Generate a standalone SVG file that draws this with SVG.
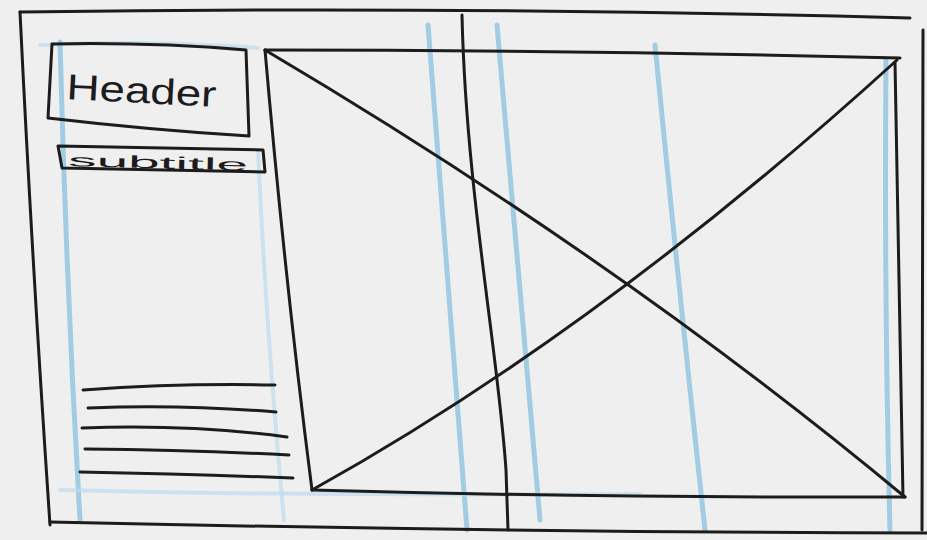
<svg xmlns="http://www.w3.org/2000/svg" width="927" height="540" viewBox="0 0 927 540">
<style>
.ink{fill:none;stroke:#1c1c1c;stroke-width:3;stroke-linecap:round;stroke-linejoin:round}
.blue{fill:none;stroke:#8ec3e0;stroke-width:5;stroke-linecap:round;opacity:0.8}
.faint{fill:none;stroke:#bcdcec;stroke-width:4;stroke-linecap:round;opacity:0.7}
.hand{font-family:"Liberation Sans","DejaVu Sans",sans-serif;fill:#1c1c1c}
</style>
<rect width="927" height="540" fill="#efefef"/>
<g id="guides">
<path class="faint" d="M40 45 Q150 40 258 48"/>
<path class="blue" d="M60 42 Q66 280 80 520"/>
<path class="faint" d="M258 150 Q266 330 284 520"/>
<path class="blue" d="M428 25 Q446 250 467 530"/>
<path class="blue" d="M497 25 Q518 270 540 520"/>
<path class="blue" d="M655 45 Q678 280 705 530"/>
<path class="blue" d="M886 60 Q884 300 890 530"/>
<path class="faint" d="M60 490 Q300 496 640 494"/>
</g>
<g id="page-frame">
<path class="ink" d="M20 12 Q460 6 910 18"/>
<path class="ink" d="M20 12 Q32 260 50 525"/>
<path class="ink" d="M50 522 Q500 532 927 533"/>
<path class="ink" d="M923 30 L922 530"/>
</g>
<g id="grid-line">
<path class="ink" d="M462 15 C466 190 498 350 506 470 L508 530"/>
</g>
<g id="header">
<path class="ink" d="M52 44 Q150 42 246 50 L249 136 Q150 130 48 118 Z"/>
<text class="hand" x="66" y="99" font-size="36" transform="rotate(3 66 99)" textLength="150" lengthAdjust="spacingAndGlyphs">Header</text>
</g>
<g id="subtitle">
<path class="ink" d="M58 146 L263 150 L265 172 L62 168 Z"/>
<text class="hand" x="68" y="166" font-size="17" transform="rotate(1.5 68 166)" textLength="180" lengthAdjust="spacingAndGlyphs">subtitle</text>
</g>
<g id="image-placeholder">
<path class="ink" d="M265 50 Q580 50 900 58"/>
<path class="ink" d="M265 50 Q285 280 312 490"/>
<path class="ink" d="M312 490 Q600 498 905 497"/>
<path class="ink" d="M895 62 Q900 290 903 497"/>
<path class="ink" d="M265 50 Q620 260 905 497"/>
<path class="ink" d="M312 490 Q600 330 897 60"/>
</g>
<g id="text-lines">
<path class="ink" d="M83 390 Q180 383 275 385"/>
<path class="ink" d="M88 408 Q180 404 276 412"/>
<path class="ink" d="M82 428 Q190 424 287 437"/>
<path class="ink" d="M85 449 Q190 450 289 455"/>
<path class="ink" d="M80 472 Q190 474 293 478"/>
</g>
</svg>
